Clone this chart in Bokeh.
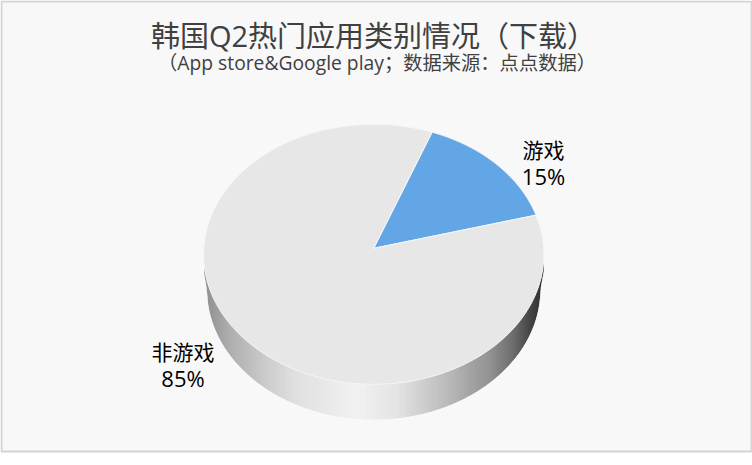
import numpy as np
from bokeh.plotting import figure
from bokeh.models import Range1d
from bokeh.core.properties import value
from bokeh.embed import file_html
from bokeh.resources import INLINE

# Data
categories = ["游戏", "非游戏"]
shares = [15, 85]
slice_colors = ["#62a6e6", "#e7e7e7"]
title_text = "韩国Q2热门应用类别情况（下载）"
subtitle_text = "（App store&Google play；数据来源：点点数据）"

# Layout / style
W, H = 752, 465
APEX_X, APEX_Y = 373.2, 247.8
RX, RY, TILT = 170, 129.7, 0.046
DEPTH = 35
BASE_SHRINK = 0.977
WALL_START_DROP = 14
FIRST_ANGLE = 21
LABEL_POS = [(543, 149, 175), (182.5, 351, 377)]
SIDE_STOPS_X = [203, 208, 228, 262, 295, 357, 397, 440, 490, 513, 530, 540, 544]
SIDE_STOPS_V = [0x80, 0x8a, 0xa5, 0xc5, 0xde, 0xf2, 0xe2, 0xbb, 0x88, 0x60, 0x33, 0x22, 0x20]


def rim(theta_deg):
    t = np.radians(theta_deg)
    d = 1 + TILT * np.cos(t)
    return APEX_X + RX * np.sin(t) / d, APEX_Y - RY * np.cos(t) / d


p = figure(width=W, height=H, x_range=Range1d(0, W), y_range=Range1d(H, 0),
           output_backend="svg", toolbar_location=None, min_border=0,
           x_axis_type=None, y_axis_type=None, outline_line_color=None,
           background_fill_color="white", border_fill_color="white")
p.grid.visible = False

# panel
p.quad(left=[1], right=[751], top=[1], bottom=[451], fill_color="#f8f8f8",
       line_color="#d4d4d4", line_width=2)

# side wall: lower half of the rim, down to a slightly narrower base curve
theta = np.linspace(90, 270, 721)
rx_, ry_ = rim(theta)
order = np.argsort(rx_)
top_x, top_y = rx_[order], ry_[order]
base_x = APEX_X + (top_x - APEX_X) * BASE_SHRINK
base_y = top_y + DEPTH
# outer silhouette meets the rim tangentially at both extremes
base_x = np.r_[top_x[0], base_x, top_x[-1]]
base_y = np.r_[top_y[0] + WALL_START_DROP, base_y, top_y[-1] + WALL_START_DROP]
xs, ys, cols = [], [], []
for x0 in np.arange(np.ceil(top_x[0]), np.floor(top_x[-1])):
    x1 = x0 + 1
    v = int(np.interp(x0 + .5, SIDE_STOPS_X, SIDE_STOPS_V))
    xs.append([x0, x1, x1, x0])
    ys.append([np.interp(x0, top_x, top_y) - 1, np.interp(x1, top_x, top_y) - 1,
               np.interp(x1, base_x, base_y), np.interp(x0, base_x, base_y)])
    cols.append(f"#{v:02x}{v:02x}{v:02x}")
p.patches(xs, ys, fill_color=cols, line_color=cols, line_width=0.4)

# top faces
start = FIRST_ANGLE
for share, col in zip(shares, slice_colors):
    sweep = share / sum(shares) * 360
    t = np.linspace(start, start + sweep, 300)
    x, y = rim(t)
    p.patch(np.r_[APEX_X, x], np.r_[APEX_Y, y], fill_color=col,
            line_color="#f6f6f6", line_width=1)
    start += sweep

# texts
font = value("Open Sans, Noto Sans CJK SC")
p.text([373], [35], text=[title_text], text_font=font, text_font_size="29px",
       text_color="#404040", text_align="center", text_baseline="middle")
p.text([376.5], [62], text=[subtitle_text], text_font=font, text_font_size="19.3px",
       text_color="#404040", text_align="center", text_baseline="middle")
for cat, share, (lx, y1, y2) in zip(categories, shares, LABEL_POS):
    p.text([lx], [y1], text=[cat], text_font=font, text_font_size="21px",
           text_color="black", text_align="center", text_baseline="middle")
    p.text([lx], [y2], text=[f"{share}%"], text_font=font, text_font_size="22px",
           text_color="black", text_align="center", text_baseline="middle")

open("out.html", "w").write(file_html(p, INLINE))
